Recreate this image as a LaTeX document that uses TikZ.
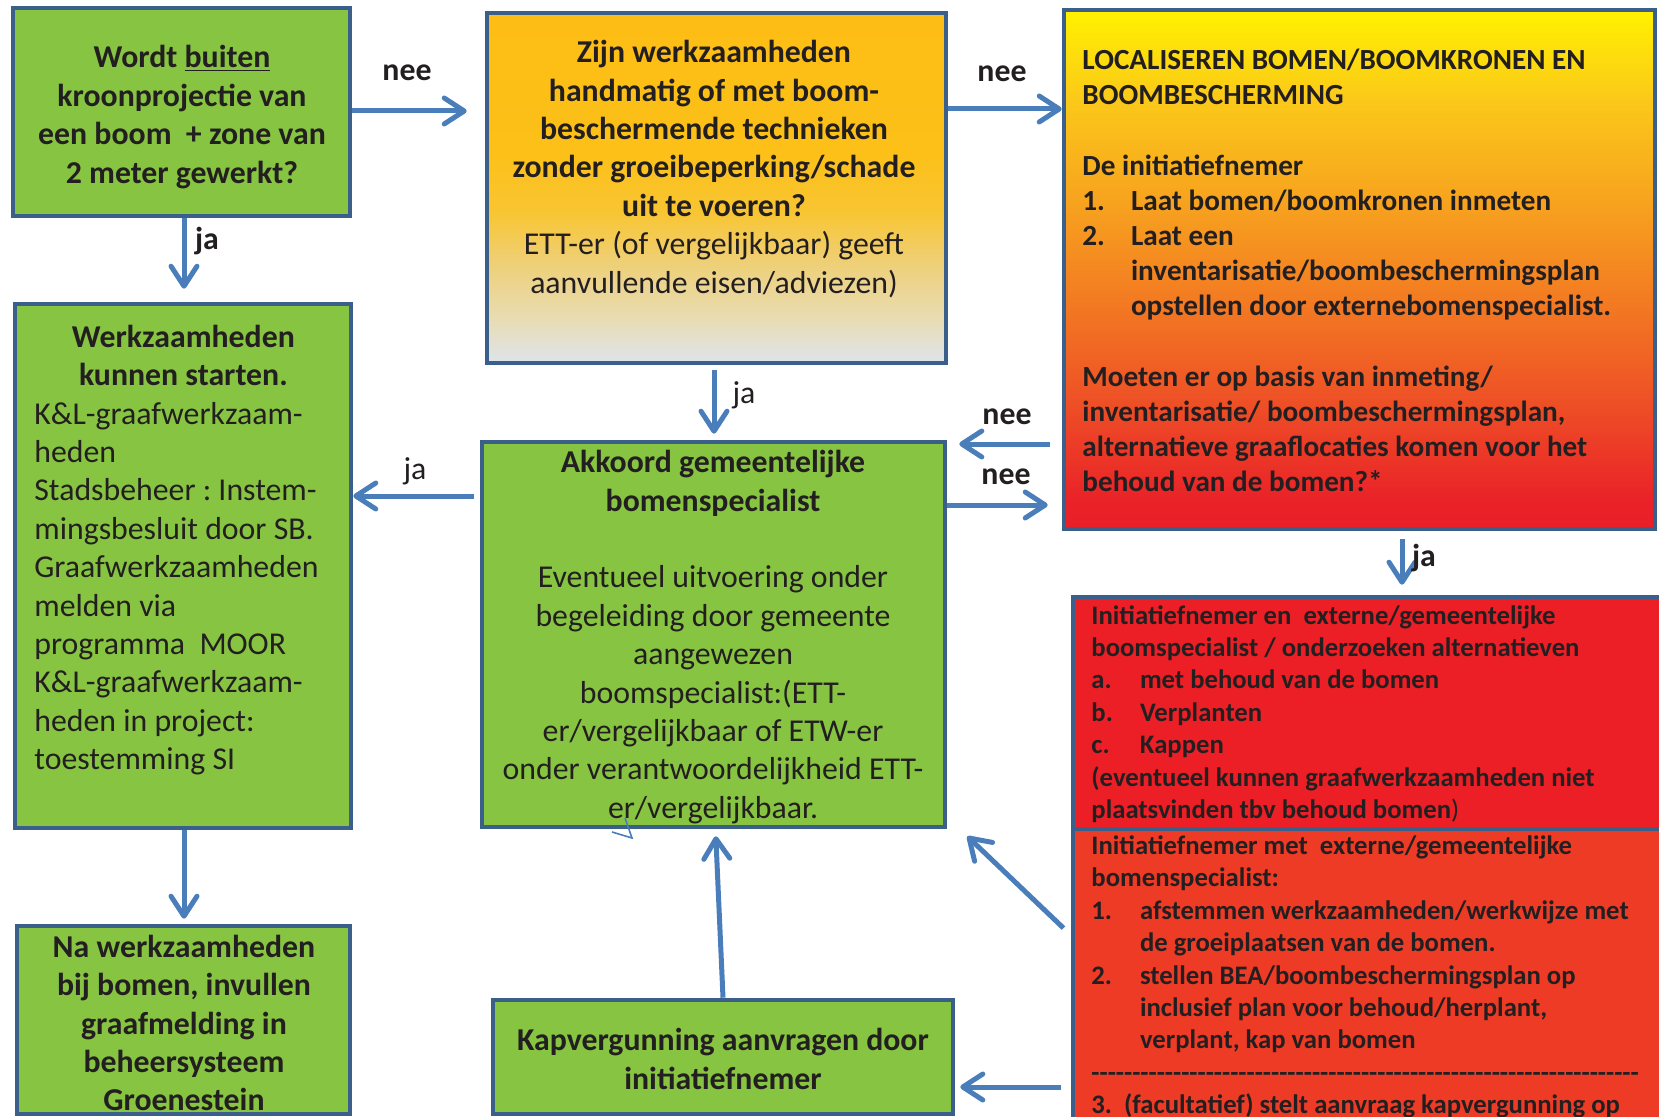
\documentclass[tikz,border=0pt]{standalone}
\usepackage{fontspec}
\setmainfont{Carlito}
\usetikzlibrary{arrows.meta,fit,positioning}
\frenchspacing

\definecolor{boxline}{HTML}{3A5F8B}
\definecolor{arrowblue}{HTML}{4A7EBB}
\definecolor{leafgreen}{HTML}{86C441}
\definecolor{alarmred}{HTML}{EC1F26}
\definecolor{warnred}{HTML}{EE3B25}
\definecolor{inktext}{HTML}{231F20}
% colours of the two fading boxes
\definecolor{gfa}{HTML}{DEE4EC}
\definecolor{gfb}{HTML}{E9DCB2}
\definecolor{gfc}{HTML}{EED07A}
\definecolor{gfd}{HTML}{F8C532}
\definecolor{gfe}{HTML}{FCC018}
\definecolor{gff}{HTML}{FDBD14}
\definecolor{rfa}{HTML}{E91F27}
\definecolor{rfb}{HTML}{EA2328}
\definecolor{rfc}{HTML}{EE5126}
\definecolor{rfd}{HTML}{F37B22}
\definecolor{rfe}{HTML}{F7A31E}
\definecolor{rff}{HTML}{FBC71A}
\definecolor{rfg}{HTML}{FFF200}

\pgfdeclareverticalshading{goldfade}{100bp}{color(0bp)=(gfa); color(25bp)=(gfa);
  color(31.5bp)=(gfb); color(39bp)=(gfc); color(46.5bp)=(gfd); color(55bp)=(gfe);
  color(75bp)=(gff); color(100bp)=(gff)}
\pgfdeclareverticalshading{firefade}{100bp}{color(0bp)=(rfa); color(25bp)=(rfa);
  color(28bp)=(rfb); color(37.5bp)=(rfc); color(47bp)=(rfd); color(56.6bp)=(rfe);
  color(66bp)=(rff); color(75bp)=(rfg); color(100bp)=(rfg)}

\newcommand\boxfont{\fontsize{15.9}{19.2}\selectfont}
\newcommand\lokfont{\fontsize{14.6}{17.6}\selectfont}
\newcommand\redfont{\fontsize{13.35}{16.2}\selectfont}
\newcommand\itm[1]{\makebox[24.3pt][l]{#1}}
\newcommand\ind{\hspace*{24.3pt}}
\newcommand\hyphenrow{\foreach \i in {1,...,67}{-\kern0pt}}

\tikzset{
  box/.style={draw=boxline, line width=2.3pt, inner sep=0pt},
  txt/.style={text=inktext, inner sep=0pt, font=\boxfont},
  lbl/.style={txt, font=\boxfont\bfseries},
  arr/.style={draw=arrowblue, line width=2.5pt,
    -{Straight Barb[length=10pt,width=13pt,round]}}
}

\begin{document}
\begin{tikzpicture}[x=0.5pt, y=-0.5pt]
  \useasboundingbox (0,0) rectangle (1659,1117);
  % boxes
  \node[box, fill=leafgreen, fit={(13,8) (350,216)}] (buiten) {};
  \node[box, shade, shading=goldfade, fit={(487,13) (946,363)}] (techniek) {};
  \node[box, shade, shading=firefade, fit={(1064,10) (1655,529)}] (lokaal) {};
  \node[box, fill=leafgreen, fit={(15,304) (351,828)}] (starten) {};
  \node[box, fill=leafgreen, fit={(482,442) (945,827)}] (akkoord) {};
  \node[box, fill=alarmred, fit={(1073,597) (1672,829)}] (alternatief) {};
  \node[box, fill=warnred, fit={(1073,829) (1672,1130)}] (afstemmen) {};
  \node[box, fill=leafgreen, fit={(17,926) (350,1114)}] (melding) {};
  \node[box, fill=leafgreen, fit={(493,1000) (953,1114)}] (kapvergunning) {};

  % texts
  \node[txt, font=\boxfont\bfseries, align=center] (buitentxt) at (182,117)
    {Wordt \underline{buiten}\\kroonprojectie van\\een boom\ \ + zone van\\2 meter gewerkt?};
  \node[txt, font=\boxfont\bfseries, align=center] (techniektxt) at (714,169)
    {Zijn werkzaamheden\\handmatig of met boom-\\beschermende technieken\\
     zonder groeibeperking/schade\\uit te voeren?\\
     \mdseries ETT-er (of vergelijkbaar) geeft\\\mdseries aanvullende eisen/adviezen)};
  \node[txt, font=\lokfont\bfseries, align=left, anchor=west] (lokaaltxt) at (1082,270.5)
    {LOCALISEREN BOMEN/BOOMKRONEN EN\\
     BOOMBESCHERMING\\[17.6pt]
     De initiatiefnemer\\
     \itm{1.}Laat bomen/boomkronen inmeten\\
     \itm{2.}Laat een\\
     \ind inventarisatie/boombeschermingsplan\\
     \ind opstellen door externebomenspecialist.\\[17.6pt]
     Moeten er op basis van inmeting/\\
     inventarisatie/ boombeschermingsplan,\\
     alternatieve graaflocaties komen voor het\\
     behoud van de bomen?*};
  \node[txt, align=left, anchor=west] (startentxt) at (34,550)
    {\makebox[149pt]{\bfseries Werkzaamheden}\\
     \makebox[149pt]{\bfseries kunnen starten.}\\
     K\&L-graafwerkzaam-\\
     heden\\
     Stadsbeheer : Instem-\\
     mingsbesluit door SB.\\
     Graafwerkzaamheden\\
     melden via\\
     programma\ \ MOOR\\
     K\&L-graafwerkzaam-\\
     heden in project:\\
     toestemming SI};
  \node[txt, align=center] (akkoordtxt) at (713,637)
    {\textbf{Akkoord gemeentelijke}\\
     \textbf{bomenspecialist}\\[19.2pt]
     Eventueel uitvoering onder\\
     begeleiding door gemeente\\
     aangewezen\\
     boomspecialist:(ETT-\\
     er/vergelijkbaar of ETW-er\\
     onder verantwoordelijkheid ETT-\\
     er/vergelijkbaar.};
  \node[txt, font=\redfont\bfseries, align=left, anchor=west] (alternatieftxt) at (1091,714)
    {Initiatiefnemer en\ \ externe/gemeentelijke\\
     boomspecialist / onderzoeken alternatieven\\
     \itm{a.}met behoud van de bomen\\
     \itm{b.}Verplanten\\
     \itm{c.}Kappen\\
     (eventueel kunnen graafwerkzaamheden niet\\
     plaatsvinden tbv behoud bomen{\mdseries )}};
  \node[txt, font=\redfont\bfseries, align=left, anchor=west] (afstemmentxt) at (1091,977)
    {Initiatiefnemer met\ \ externe/gemeentelijke\\
     bomenspecialist:\\
     \itm{1.}afstemmen werkzaamheden/werkwijze met\\
     \ind de groeiplaatsen van de bomen.\\
     \itm{2.}stellen BEA/boombeschermingsplan op\\
     \ind inclusief plan voor behoud/herplant,\\
     \ind verplant, kap van bomen\\
     \hyphenrow\\
     3.\hspace{6pt}(facultatief) stelt aanvraag kapvergunning op};
  \node[txt, font=\boxfont\bfseries, align=center] (meldingtxt) at (184,1023)
    {Na werkzaamheden\\bij bomen, invullen\\graafmelding in\\beheersysteem\\Groenestein};
  \node[txt, font=\boxfont\bfseries, align=center] (kapvergunningtxt) at (723,1059)
    {Kapvergunning aanvragen door\\initiatiefnemer};

  % arrows
  \draw[arr, shorten >=9pt] (buiten.east |- 0,111) -- (techniek.west |- 0,111);
  \draw[arr] (techniek.east |- 0,109) -- (lokaal.west |- 0,109);
  \draw[arr, shorten >=6.5pt] (buiten.south -| 184,0) -- (starten.north -| 184,0);
  \draw[arr, shorten <=2.5pt, shorten >=3pt] (techniek.south -| 714,0) -- (akkoord.north -| 714,0);
  \draw[arr, shorten <=6pt, shorten >=6pt] (lokaal.west |- 0,444) -- (akkoord.east |- 0,444);
  \draw[arr, shorten >=7pt] (akkoord.east |- 0,505) -- (lokaal.west |- 0,505);
  \draw[arr, shorten <=3pt] (akkoord.west |- 0,496) -- (starten.east |- 0,496);
  \draw[arr, shorten <=4pt, shorten >=5pt] (lokaal.south -| 1402,0) -- (alternatief.north -| 1402,0);
  \draw[arr, shorten >=2.5pt] (starten.south -| 184,0) -- (melding.north -| 184,0);
  \draw[arr, shorten >=3.5pt] (kapvergunning.north) -- ([xshift=1pt]akkoord.south);
  \draw[arr, shorten <=5pt] (afstemmen.west |- 0,935) -- ([xshift=10pt,yshift=-3.5pt]akkoord.south east);
  \draw[arr, shorten <=5pt, shorten >=2.5pt] (afstemmen.west |- 0,1087) -- (kapvergunning.east |- 0,1087);
  % stray mark
  \draw[arrowblue, line width=0.8pt] (625,818) -- (632,838) -- (612,832);

  % labels
  \node[lbl] (nee1) at (407,73) {nee};
  \node[lbl] (nee2) at (1002,74) {nee};
  \node[lbl] (ja1) at (207,241) {ja};
  \node[txt] (ja2) at (744,395) {ja};
  \node[lbl] (nee3) at (1007,417) {nee};
  \node[lbl] (nee4) at (1006,477) {nee};
  \node[txt] (ja3) at (415,471) {ja};
  \node[lbl] (ja4) at (1424,558) {ja};
\end{tikzpicture}
\end{document}
